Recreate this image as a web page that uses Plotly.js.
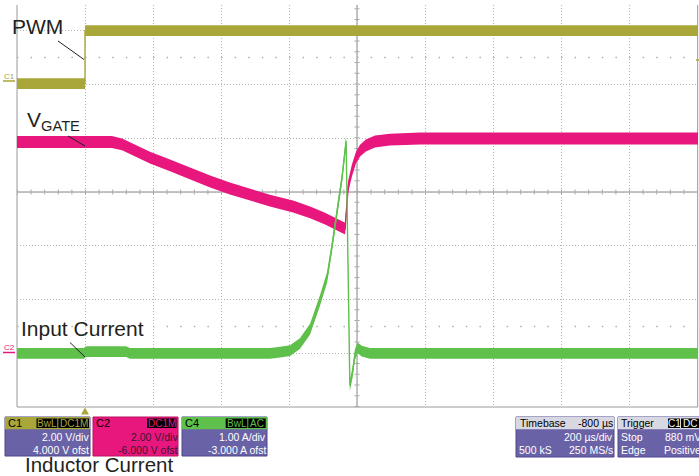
<!DOCTYPE html>
<html><head><meta charset="utf-8">
<script src="https://cdn.plot.ly/plotly-3.0.1.min.js"></script>
<style>html,body{margin:0;padding:0;background:#fff;overflow:hidden}#chart{width:699px;height:476px}</style>
</head><body><div id="chart"></div>
<script>
// ---- scope settings (from the descriptor boxes) ----
const timePerDiv = 200;      // µs/div
const timebaseDelay = -800;  // µs
const c1VoltsPerDiv = 2, c1Offset = 4;    // PWM
const c2VoltsPerDiv = 2, c2Offset = -6;   // VGATE
const c4AmpsPerDiv = 1, c4Offset = -3;    // current

// ---- PWM (C1), volts ----
const pwmTime  = [-200, 0, 0, 1810];
const pwmVolts = [0.03, 0.03, 2.0, 2.0];
const pwmNoise = 0.2;

// ---- VGATE (C2), volts ----
const gateTime  = [-200, 79, 109, 147, 191, 250, 309, 368, 426, 485, 544, 612, 662, 706, 735, 765, 774, 785, 797, 809, 826, 853, 897, 985, 1810];
const gateVolts = [7.86, 7.86, 7.77, 7.54, 7.28, 6.99, 6.69, 6.39, 6.13, 5.91, 5.68, 5.46, 5.24, 5.01, 4.83, 4.64, 6.20, 6.80, 7.28, 7.54, 7.73, 7.88, 7.95, 7.99, 7.99];
const gateNoise = 0.22;

// ---- Input / inductor current (C4), amps ----
const currTime = [-200, -3, 3, 121, 132, 544, 574, 603, 632, 662, 691, 712, 726, 741, 756, 768, 779, 787, 794, 802, 814, 838, 1810];
const currAmps = [0.0, 0.0, 0.03, 0.03, 0.0, 0.0, 0.02, 0.05, 0.18, 0.45, 0.98, 1.41, 1.97, 2.60, 3.27, 3.95, -0.60, -0.35, -0.02, 0.10, 0.04, 0.0, 0.0];
const currNoise = 0.1;

// ---- colours ----
const OLIVE = '#a9a63a', MAGENTA = '#e8177d', GREEN = '#5fc04b';
const PURPLE = '#6a62a6', HEADGRAY = '#d8d8e2', INK = '#231f20';

// ---- geometry ----
const L = 17, T = 5, PW = 681, PH = 402;
const divBottom = -4, divTop = -4 + PH / 53.75;
const divLeft = -5, divRight = -5 + PW / 68;
const centerTime = -timebaseDelay;
const px = x => (x - L) / PW;
const py = y => (T + PH - y) / PH;
const yRange = (perDiv, off) => [divBottom * perDiv - off, divTop * perDiv - off];

function band(t, v, h, color, yaxis) {
  return [
    {x: t, y: v.map(a => a - h), yaxis, mode: 'lines', line: {width: 0, color}, hoverinfo: 'skip'},
    {x: t, y: v.map(a => a + h), yaxis, mode: 'lines', line: {width: 0, color}, fill: 'tonexty', fillcolor: color, hoverinfo: 'skip'},
    {x: t, y: v, yaxis, mode: 'lines', line: {width: 1.4, color}, hoverinfo: 'skip'}
  ];
}
const data = [].concat(
  band(pwmTime, pwmVolts, pwmNoise, OLIVE, 'y'),
  band(gateTime, gateVolts, gateNoise, MAGENTA, 'y2'),
  band(currTime, currAmps, currNoise, GREEN, 'y3')
);

const shapes = [], annotations = [];
const FONT = 'Liberation Sans, Arial, sans-serif';
function rect(x0, y0, x1, y1, fill, lineColor) {
  shapes.push({type: 'rect', xref: 'paper', yref: 'paper', x0: px(x0), x1: px(x1), y0: py(y1), y1: py(y0),
    fillcolor: fill, line: {width: lineColor ? 1 : 0, color: lineColor || fill}, layer: 'above'});
}
function seg(x0, y0, x1, y1, color, width, layer) {
  shapes.push({type: 'line', xref: 'paper', yref: 'paper', x0: px(x0), x1: px(x1), y0: py(y0), y1: py(y1),
    line: {color, width}, layer: layer || 'above'});
}
function txt(s, x, y, anchor, size, color) {
  annotations.push({xref: 'paper', yref: 'paper', x: px(x), y: py(y), xanchor: anchor, yanchor: 'middle',
    text: s, showarrow: false, borderpad: 0, font: {family: FONT, size, color}});
}
function badge(s, x0, x1, color) {
  rect(x0, 418.5, x1, 428, '#000');
  txt(s, (x0 + x1) / 2, 423.4, 'center', 10, color);
}

// borders
shapes.push({type: 'line', xref: 'paper', yref: 'paper', x0: 0, x1: 0, y0: 0, y1: 1, line: {color: '#9a9a9a', width: 1}, layer: 'below'});
shapes.push({type: 'line', xref: 'paper', yref: 'paper', x0: 0, x1: 1, y0: 0, y1: 0, line: {color: '#9a9a9a', width: 1}, layer: 'below'});
shapes.push({type: 'line', xref: 'paper', yref: 'paper', x0: 0.9995, x1: 0.9995, y0: 0, y1: 1, line: {color: '#9a9a9a', width: 1}, layer: 'below'});
// centre cross with minor ticks
const c1Center = -c1Offset;
shapes.push({type: 'line', xref: 'paper', yref: 'y', x0: 0, x1: 1, y0: c1Center, y1: c1Center, line: {color: '#b0b0b0', width: 1.5}, layer: 'below'});
shapes.push({type: 'line', xref: 'x', yref: 'paper', x0: centerTime, x1: centerTime, y0: 0, y1: 1, line: {color: '#b0b0b0', width: 1.5}, layer: 'below'});
shapes.push({type: 'line', xref: 'x', yref: 'y', x0: centerTime - 5 * timePerDiv, x1: centerTime + 5.1 * timePerDiv, y0: c1Center, y1: c1Center, line: {color: '#a8a8a8', width: 5, dash: '1px,12.6px'}, layer: 'below'});
shapes.push({type: 'line', xref: 'x', yref: 'y', x0: centerTime, x1: centerTime, y0: c1Center - 4 * c1VoltsPerDiv, y1: c1Center + 3.5 * c1VoltsPerDiv, line: {color: '#a8a8a8', width: 5, dash: '1px,9.75px'}, layer: 'below'});
// ±2.5 div dot rows
[2.5, -2.5].forEach(d => shapes.push({type: 'line', xref: 'x', yref: 'y', x0: centerTime - 5 * timePerDiv, x1: centerTime + 5.1 * timePerDiv,
  y0: c1Center + d * c1VoltsPerDiv, y1: c1Center + d * c1VoltsPerDiv, line: {color: '#b0b0b0', width: 1.5, dash: '1.5px,12.1px'}, layer: 'below'}));

// trigger marker + level
shapes.push({type: 'path', xref: 'paper', yref: 'paper', path: `M ${px(81)} ${py(414.5)} L ${px(89)} ${py(414.5)} L ${px(85)} ${py(407.5)} Z`, fillcolor: OLIVE, line: {width: 0}, layer: 'above'});
seg(696, 60, 699, 60, OLIVE, 1.5);

// ground markers
txt('C1', 3, 76, 'left', 8, OLIVE); seg(3, 81, 15, 81, OLIVE, 1.5);
txt('C2', 3, 347, 'left', 8, MAGENTA); seg(3, 352.5, 15, 352.5, MAGENTA, 1.5);

// labels and leaders
txt('PWM', 11, 26, 'left', 21, INK); seg(58, 41, 84, 59.5, INK, 1);
annotations.push({xref: 'paper', yref: 'paper', x: px(26), y: py(121), xanchor: 'left', yanchor: 'middle', text: 'V<sub>GATE</sub>', showarrow: false, borderpad: 0, font: {family: FONT, size: 21, color: INK}});
seg(68, 136, 85, 146, INK, 1);
txt('Input Current', 20, 328, 'left', 21, INK); seg(70, 342.5, 85, 357, INK, 1);
txt('Inductor Current', 24, 465, 'left', 20.5, INK);

// descriptor boxes
// C1
rect(5, 417, 90, 456, PURPLE, '#4c4690'); rect(5, 417, 90, 429.3, OLIVE);
txt('C1', 7, 423.4, 'left', 11, '#000'); badge('BwL', 36.5, 57.3, OLIVE); badge('DC1M', 58.3, 89, OLIVE);
txt('2.00 V/div', 89.5, 437, 'right', 10.5, '#fff'); txt('4.000 V ofst', 89.5, 449.5, 'right', 10.5, '#fff');
// C2
rect(93, 417, 178, 456, MAGENTA, '#b8105f');
txt('C2', 95, 423.4, 'left', 11, '#000'); badge('DC1M', 147, 176.5, MAGENTA);
txt('2.00 V/div', 178.5, 437, 'right', 10.5, '#3d1433'); txt('-6.000 V ofst', 178.5, 449.5, 'right', 10.5, '#3d1433');
// C4
rect(182, 417, 267, 456, PURPLE, '#4c4690'); rect(182, 417, 267, 429.3, GREEN);
txt('C4', 184, 423.4, 'left', 11, '#000'); badge('BwL', 225.7, 247.3, GREEN); badge('AC', 248.3, 265.7, GREEN);
txt('1.00 A/div', 266.5, 437, 'right', 10.5, '#fff'); txt('-3.000 A ofst', 266.5, 449.5, 'right', 10.5, '#fff');
// Timebase
rect(516, 417, 614, 457, PURPLE, '#4c4690'); rect(516, 417, 614, 429.3, HEADGRAY);
txt('Timebase', 518.5, 423.4, 'left', 10.5, '#000'); txt('-800 µs', 613.5, 423.4, 'right', 10.5, '#000');
txt('200 µs/div', 613.5, 437, 'right', 10.5, '#fff');
txt('500 kS', 518, 450, 'left', 10.5, '#fff'); txt('250 MS/s', 613.5, 450, 'right', 10.5, '#fff');
// Trigger
rect(618, 417, 712, 457, PURPLE, '#4c4690'); rect(618, 417, 712, 429.3, HEADGRAY);
txt('Trigger', 620, 423.4, 'left', 10.5, '#000'); badge('C1', 668, 680, '#fff'); badge('DC', 681, 699, '#fff');
txt('Stop', 620, 437, 'left', 10.5, '#fff'); txt('880 mV', 701.5, 437, 'right', 10.5, '#fff');
txt('Edge', 620, 450, 'left', 10.5, '#fff'); txt('Positive', 702, 450, 'right', 10.5, '#fff');

const grid = {showgrid: true, gridcolor: '#b4b4b4', gridwidth: 1, griddash: '1px,2px', zeroline: false, showticklabels: false, ticks: '', showline: false};
const layout = {
  width: 699, height: 476, margin: {l: L, r: 699 - L - PW, t: T, b: 476 - T - PH, pad: 0},
  paper_bgcolor: '#fff', plot_bgcolor: '#fff', showlegend: false,
  xaxis: Object.assign({range: [centerTime + divLeft * timePerDiv, centerTime + divRight * timePerDiv], tick0: 0, dtick: timePerDiv}, grid),
  yaxis: Object.assign({range: yRange(c1VoltsPerDiv, c1Offset), tick0: 0, dtick: c1VoltsPerDiv}, grid),
  yaxis2: {overlaying: 'y', range: yRange(c2VoltsPerDiv, c2Offset), visible: false},
  yaxis3: {overlaying: 'y', range: yRange(c4AmpsPerDiv, c4Offset), visible: false},
  shapes, annotations
};
Plotly.newPlot('chart', data, layout, {displayModeBar: false, staticPlot: true});
</script></body></html>
